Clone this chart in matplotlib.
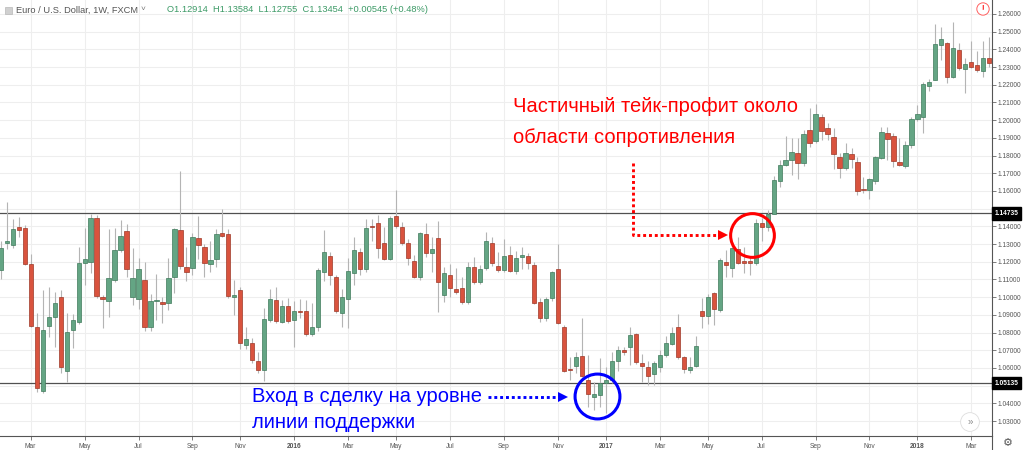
import matplotlib

matplotlib.use("Agg")
import matplotlib.pyplot as plt
import numpy as np
import pandas as pd
from matplotlib.patches import Rectangle
from matplotlib.lines import Line2D

plt.rcParams["font.family"] = ["Liberation Sans", "DejaVu Sans"]

# --- Data: EUR/USD weekly candles ---
first_week = "2015-01-26"

opens = [
    1.1153, 1.1305, 1.1295, 1.1398, 1.1393, 1.1185, 1.0833, 1.0470, 1.0839, 1.0890,
    1.1003, 1.0585, 1.0814, 1.0861, 1.1191, 1.1200, 1.1445, 1.1003, 1.0980, 1.1097,
    1.1266, 1.1376, 1.1001, 1.0991, 1.1097, 1.0831, 1.0980, 1.0973, 1.0965, 1.1116,
    1.1379, 1.1172, 1.1163, 1.1332, 1.1285, 1.1185, 1.1218, 1.1364, 1.1357, 1.1002,
    1.1039, 1.0727, 1.0743, 1.0641, 1.0590, 1.0871, 1.0984, 1.0857, 1.0950, 1.0871,
    1.0918, 1.0923, 1.0792, 1.0833, 1.1144, 1.1234, 1.1112, 1.0909, 1.0988, 1.1135,
    1.1257, 1.1157, 1.1400, 1.1417, 1.1304, 1.1216, 1.1458, 1.1395, 1.1308, 1.1206,
    1.1113, 1.1355, 1.1248, 1.1333, 1.1012, 1.1126, 1.1046, 1.1050, 1.0971, 1.1169,
    1.1088, 1.1167, 1.1308, 1.1176, 1.1154, 1.1237, 1.1150, 1.1226, 1.1233, 1.1182,
    1.0974, 1.0884, 1.0994, 1.1158, 1.0830, 1.0596, 1.0611, 1.0669, 1.0532, 1.0438,
    1.0449, 1.0517, 1.0532, 1.0638, 1.0703, 1.0721, 1.0792, 1.0626, 1.0607, 1.0564,
    1.0607, 1.0673, 1.0733, 1.0833, 1.0660, 1.0589, 1.0613, 1.0922, 1.0895, 1.1021,
    1.0927, 1.1197, 1.1167, 1.1270, 1.1206, 1.1206, 1.1195, 1.1417, 1.1398, 1.1472,
    1.1657, 1.1747, 1.1776, 1.1813, 1.1760, 1.1944, 1.1883, 1.2020, 1.1953, 1.1903,
    1.1794, 1.1728, 1.1808, 1.1765, 1.1610, 1.1607, 1.1654, 1.1788, 1.1926, 1.1910,
    1.1765, 1.1743, 1.1860, 1.2005, 1.2020, 1.2193, 1.2228, 1.2423, 1.2438, 1.2245,
    1.2397, 1.2290, 1.2330, 1.2311, 1.2280, 1.2350,
]
highs = [
    1.1320, 1.1536, 1.1442, 1.1451, 1.1410, 1.1244, 1.0908, 1.1040, 1.1055, 1.1031,
    1.1040, 1.0909, 1.0905, 1.1285, 1.1389, 1.1470, 1.1465, 1.1010, 1.1383, 1.1389,
    1.1436, 1.1413, 1.1277, 1.1221, 1.1197, 1.1018, 1.1129, 1.1003, 1.1219, 1.1390,
    1.1715, 1.1281, 1.1360, 1.1460, 1.1300, 1.1319, 1.1385, 1.1496, 1.1385, 1.1097,
    1.1055, 1.0829, 1.0767, 1.0692, 1.0940, 1.1046, 1.1058, 1.0984, 1.0996, 1.0980,
    1.0990, 1.0984, 1.0967, 1.1167, 1.1380, 1.1255, 1.1126, 1.1048, 1.1220, 1.1342,
    1.1278, 1.1441, 1.1440, 1.1464, 1.1398, 1.1458, 1.1606, 1.1426, 1.1330, 1.1238,
    1.1370, 1.1417, 1.1342, 1.1430, 1.1169, 1.1187, 1.1163, 1.1116, 1.1200, 1.1229,
    1.1182, 1.1367, 1.1342, 1.1257, 1.1327, 1.1289, 1.1261, 1.1285, 1.1248, 1.1200,
    1.0997, 1.0999, 1.1150, 1.1300, 1.0843, 1.0660, 1.0692, 1.0880, 1.0673, 1.0522,
    1.0654, 1.0607, 1.0692, 1.0726, 1.0720, 1.0833, 1.0796, 1.0679, 1.0640, 1.0640,
    1.0701, 1.0781, 1.0830, 1.0906, 1.0670, 1.0660, 1.0781, 1.0993, 1.1020, 1.1030,
    1.1220, 1.1268, 1.1285, 1.1342, 1.1285, 1.1229, 1.1440, 1.1445, 1.1491, 1.1683,
    1.1776, 1.1910, 1.1897, 1.1897, 1.1944, 1.2070, 1.2091, 1.2034, 1.1985, 1.1954,
    1.1816, 1.1873, 1.1841, 1.1790, 1.1680, 1.1674, 1.1800, 1.1959, 1.1959, 1.1926,
    1.1897, 1.1880, 1.2020, 1.2085, 1.2215, 1.2230, 1.2543, 1.2528, 1.2440, 1.2556,
    1.2434, 1.2350, 1.2446, 1.2393, 1.2446, 1.2472,
]
lows = [
    1.1100, 1.1270, 1.1276, 1.1338, 1.1180, 1.0830, 1.0466, 1.0460, 1.0777, 1.0720,
    1.0573, 1.0522, 1.0711, 1.0850, 1.1069, 1.1135, 1.0995, 1.0824, 1.0890, 1.1087,
    1.1257, 1.1116, 1.0957, 1.0933, 1.0809, 1.0811, 1.0871, 1.0852, 1.0927, 1.1022,
    1.1160, 1.1093, 1.1125, 1.1216, 1.1112, 1.1144, 1.1172, 1.1338, 1.0995, 1.0899,
    1.0707, 1.0707, 1.0626, 1.0569, 1.0524, 1.0860, 1.0855, 1.0854, 1.0854, 1.0720,
    1.0882, 1.0782, 1.0782, 1.0810, 1.1093, 1.1069, 1.0912, 1.0830, 1.0826, 1.1069,
    1.1126, 1.1144, 1.1319, 1.1220, 1.1210, 1.1210, 1.1389, 1.1296, 1.1182, 1.1108,
    1.1097, 1.1229, 1.1144, 1.0918, 1.0971, 1.0999, 1.1018, 1.0959, 1.0959, 1.1075,
    1.1075, 1.1154, 1.1176, 1.1144, 1.1144, 1.1144, 1.1131, 1.1157, 1.1160, 1.0960,
    1.0861, 1.0865, 1.0980, 1.0850, 1.0579, 1.0532, 1.0570, 1.0551, 1.0381, 1.0362,
    1.0381, 1.0344, 1.0516, 1.0580, 1.0673, 1.0617, 1.0620, 1.0522, 1.0504, 1.0504,
    1.0579, 1.0664, 1.0730, 1.0650, 1.0570, 1.0570, 1.0607, 1.0823, 1.0851, 1.0840,
    1.0918, 1.1113, 1.1116, 1.1190, 1.1135, 1.1126, 1.1182, 1.1315, 1.1376, 1.1468,
    1.1620, 1.1741, 1.1690, 1.1666, 1.1740, 1.1850, 1.1870, 1.1887, 1.1887, 1.1722,
    1.1672, 1.1720, 1.1728, 1.1576, 1.1588, 1.1556, 1.1640, 1.1779, 1.1775, 1.1737,
    1.1741, 1.1730, 1.1840, 1.1998, 1.1927, 1.2166, 1.2225, 1.2340, 1.2211, 1.2240,
    1.2285, 1.2155, 1.2293, 1.2274, 1.2246, 1.2300,
]
closes = [
    1.1280, 1.1317, 1.1385, 1.1379, 1.1187, 1.0839, 1.0488, 1.0814, 1.0890, 1.0969,
    1.0603, 1.0805, 1.0871, 1.1195, 1.1214, 1.1445, 1.1008, 1.0991, 1.1110, 1.1266,
    1.1347, 1.1157, 1.1110, 1.1158, 1.0831, 1.0980, 1.0985, 1.0963, 1.1106, 1.1383,
    1.1178, 1.1144, 1.1338, 1.1295, 1.1191, 1.1208, 1.1355, 1.1346, 1.1008, 1.1010,
    1.0739, 1.0763, 1.0645, 1.0588, 1.0877, 1.0990, 1.0865, 1.0951, 1.0865, 1.0921,
    1.0915, 1.0792, 1.0833, 1.1154, 1.1253, 1.1126, 1.0924, 1.1003, 1.1148, 1.1268,
    1.1159, 1.1392, 1.1394, 1.1276, 1.1216, 1.1445, 1.1402, 1.1304, 1.1220, 1.1113,
    1.1364, 1.1248, 1.1272, 1.1084, 1.1135, 1.1050, 1.1031, 1.0971, 1.1169, 1.1088,
    1.1157, 1.1317, 1.1195, 1.1154, 1.1233, 1.1150, 1.1223, 1.1237, 1.1195, 1.0969,
    1.0884, 1.0990, 1.1144, 1.0855, 1.0585, 1.0589, 1.0660, 1.0556, 1.0453, 1.0453,
    1.0516, 1.0532, 1.0641, 1.0701, 1.0691, 1.0786, 1.0632, 1.0611, 1.0556, 1.0627,
    1.0673, 1.0739, 1.0799, 1.0660, 1.0592, 1.0604, 1.0726, 1.0895, 1.0999, 1.0933,
    1.1210, 1.1182, 1.1280, 1.1195, 1.1195, 1.1195, 1.1417, 1.1398, 1.1470, 1.1664,
    1.1747, 1.1776, 1.1822, 1.1756, 1.1920, 1.1870, 1.2034, 1.1940, 1.1920, 1.1809,
    1.1732, 1.1817, 1.1779, 1.1600, 1.1607, 1.1666, 1.1790, 1.1931, 1.1894, 1.1769,
    1.1747, 1.1860, 1.2005, 1.2032, 1.2204, 1.2217, 1.2430, 1.2457, 1.2245, 1.2406,
    1.2293, 1.2317, 1.2302, 1.2283, 1.2353, 1.2321,
]

resistance = 1.14735
support = 1.05135
price_ticks = [1.03, 1.04, 1.05, 1.06, 1.07, 1.08, 1.09, 1.10, 1.11, 1.12, 1.13, 1.14,
               1.15, 1.16, 1.17, 1.18, 1.19, 1.20, 1.21, 1.22, 1.23, 1.24, 1.25, 1.26]
hidden_ticks = [1.05, 1.15]  # covered by the level labels on the scale
month_names = {3: "Mar", 5: "May", 7: "Jul", 9: "Sep", 11: "Nov"}

title_text = "Euro / U.S. Dollar, 1W, FXCM"
ohlc_text = "O1.12914  H1.13584  L1.12755  C1.13454  +0.00545 (+0.48%)"
note_resist = ["Частичный тейк-профит около", "области сопротивления"]
note_support = ["Вход в сделку на уровне", "линии поддержки"]

# --- figure ---
W, H = 1024, 450
fig = plt.figure(figsize=(W / 100, H / 100), dpi=100)
fig.patch.set_facecolor("white")
ax = fig.add_axes([0, 14.3 / H, 991.7 / W, 435.7 / H])


def fpx(x, y):
    return x / W, 1 - y / H


o = np.array(opens)
h = np.array(highs)
l = np.array(lows)
c = np.array(closes)
x = np.arange(len(c))
dates = pd.date_range(first_week, periods=len(c), freq="7D")

ax.set_xlim(-0.12, 165.4)
ax.set_ylim(1.0217, 1.2679)

# grid / ticks
ax.set_yticks(price_ticks)
tick_idx, tick_lab = [], []
for i in range(1, len(dates)):
    m = dates[i].month
    if m != dates[i - 1].month and (m == 1 or m in month_names):
        tick_idx.append(i)
        tick_lab.append(str(dates[i].year) if m == 1 else month_names[m])
ax.set_xticks(tick_idx)
ax.set_xticklabels(tick_lab)
for t, lab in zip(ax.get_xticklabels(), tick_lab):
    if lab.isdigit():
        t.set_fontweight("bold")
        t.set_color("#333333")
ax.grid(True, color="#eeeeee", lw=0.8)
ax.set_axisbelow(True)

# support / resistance lines
ax.axhline(resistance, color="#505050", lw=0.9, zorder=1.8)
ax.axhline(support, color="#505050", lw=0.9, zorder=1.8)

# candles
up = c >= o
body_lo = np.minimum(o, c)
body_h = np.maximum(np.abs(c - o), 0.0006)
ax.vlines(x, l, h, color="#b4b4b4", lw=0.8, zorder=2)
ax.bar(x[up], body_h[up], bottom=body_lo[up], width=0.7, color="#64a584",
       edgecolor="#3f7a5b", linewidth=0.5, zorder=3)
ax.bar(x[~up], body_h[~up], bottom=body_lo[~up], width=0.7, color="#d9533e",
       edgecolor="#9d3828", linewidth=0.5, zorder=3)

# axes styling
ax.yaxis.tick_right()
ax.set_yticklabels(["" if v in hidden_ticks else f"{v:.5f}" for v in price_ticks])
for s in ("top", "left"):
    ax.spines[s].set_visible(False)
for s in ("right", "bottom"):
    ax.spines[s].set_color("#555555")
    ax.spines[s].set_linewidth(0.8)
ax.tick_params(axis="y", length=3, width=0.6, color="#666666", labelsize=4.8,
               labelcolor="#555555", pad=1.5)
ax.tick_params(axis="x", length=3, width=0.6, color="#666666", labelsize=4.8,
               labelcolor="#555555", pad=2)

# price labels on the right scale
for lvl in (resistance, support):
    ax.annotate(f"{lvl:.5f}", xy=(1.0, lvl), xycoords=("axes fraction", "data"),
                xytext=(2.2, 0), textcoords="offset points", ha="left", va="center",
                fontsize=4.8, color="white", fontweight="bold",
                bbox=dict(boxstyle="square,pad=0.4", fc="black", ec="black"),
                zorder=10, annotation_clip=False)

# red annotation: dotted elbow arrow + circle
red = "#ff0000"
ax.plot([105.6, 105.6, 120.2], [1.1760, 1.1351, 1.1351], color=red, lw=2.1,
        linestyle=(0, (1, 1)), dash_capstyle="butt", zorder=6)
ax.plot([120.6], [1.1351], marker=">", ms=7, color=red, mew=0, zorder=6)
ax.plot([125.45], [1.1351], marker="o", ms=31.5, mfc="none", mec=red, mew=2.2,
        zorder=7, clip_on=False)

# blue annotation
blue = "#0000ff"
ax.plot([81.3, 93.6], [1.0437, 1.0437], color=blue, lw=2.1,
        linestyle=(0, (1, 1)), dash_capstyle="butt", zorder=6)
ax.plot([93.9], [1.0437], marker=">", ms=7, color=blue, mew=0, zorder=6)
ax.plot([99.53], [1.0439], marker="o", ms=32.3, mfc="none", mec=blue, mew=2.2,
        zorder=7, clip_on=False)

fig.text(*fpx(513, 107), note_resist[0], color=red, fontsize=14.5, va="center")
fig.text(*fpx(513, 137), note_resist[1], color=red, fontsize=14.5, va="center")
fig.text(*fpx(252, 397), note_support[0], color=blue, fontsize=14.5, va="center")
fig.text(*fpx(252, 422), note_support[1], color=blue, fontsize=14.5, va="center")

# header
fig.patches.append(Rectangle(fpx(5, 14), 7 / W, 7 / H, transform=fig.transFigure,
                             fc="#d0d0d0", ec="#b8b8b8", lw=0.5))
fig.text(*fpx(16, 10), title_text, color="#555555", fontsize=6.7, va="center")
fig.text(*fpx(141, 9), "˅", color="#777777", fontsize=6, va="center")
fig.text(*fpx(167, 10), ohlc_text, color="#3c9a66", fontsize=6.7, va="center")

# small chart icons
fig.text(*fpx(983, 9), "!", color=red, fontsize=5.5, ha="center", va="center",
         fontweight="bold",
         bbox=dict(boxstyle="circle,pad=0.35", fc="white", ec="#ff6060", lw=0.7))
fig.text(*fpx(970, 422), "»", color="#888888", fontsize=7, ha="center", va="center",
         bbox=dict(boxstyle="circle,pad=0.45", fc="white", ec="#dddddd", lw=0.6))
fig.text(*fpx(1008, 443), "⚙", color="#555555", fontsize=8, ha="center", va="center")
fig.lines.append(Line2D([991.7 / W, 991.7 / W], [0, 14.3 / H], transform=fig.transFigure,
                        color="#555555", lw=0.8))

fig.savefig("out.png", dpi=100)
